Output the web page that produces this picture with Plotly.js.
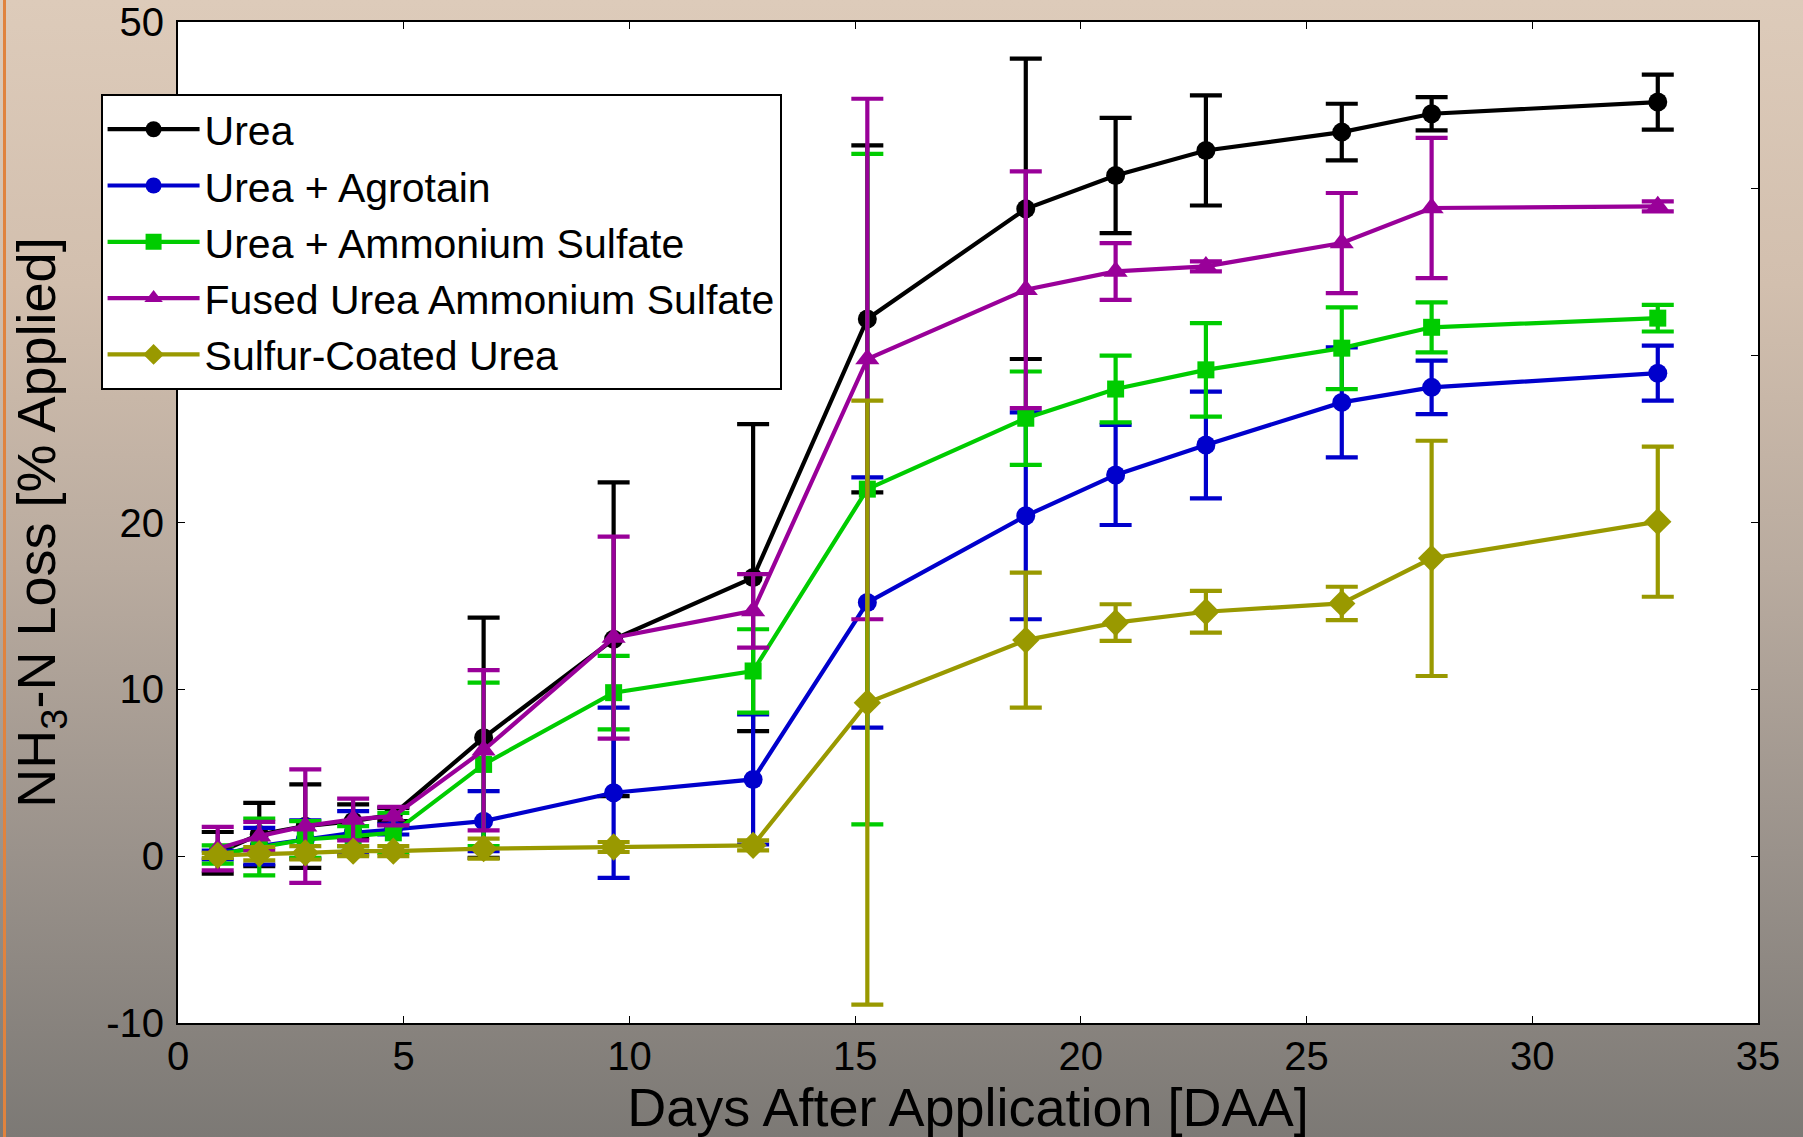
<!DOCTYPE html>
<html>
<head>
<meta charset="utf-8">
<script src="https://cdn.plot.ly/plotly-3.0.1.min.js"></script>
<style>
  html, body { margin: 0; padding: 0; }
  body {
    width: 1803px; height: 1137px; overflow: hidden;
    background: linear-gradient(to bottom, #ddcbba 0%, #d2bfae 25%, #b9ab9f 50%, #9a928b 75%, #7c7975 100%);
  }
  #edge { position: absolute; left: 3px; top: 0; width: 3px; height: 1137px; background: #e0833e; }
  #chart { position: absolute; left: 0; top: 0; width: 1803px; height: 1137px; }
</style>
</head>
<body>
<div id="edge"></div>
<div id="chart"></div>
<script>
// Days after application
const days = [0.88, 1.8, 2.82, 3.88, 4.77, 6.77, 9.65, 12.74, 15.27, 18.78, 20.77, 22.77, 25.78, 27.77, 32.78];

// NH3-N loss (% applied) and error bar half-lengths
const urea      = [0.2, 1.3, 1.8, 2.1, 2.5, 7.1, 13.0, 16.7, 32.2, 38.8, 40.8, 42.3, 43.4, 44.5, 45.2];
const ureaErr   = [1.25, 1.9, 2.5, 1.0, 0.4, 7.2, 9.4, 9.2, 10.4, 9.0, 3.45, 3.3, 1.7, 1.0, 1.65];

const agrotain    = [0.07, 0.6, 1.0, 1.4, 1.6, 2.1, 3.8, 4.6, 15.2, 20.4, 22.85, 24.65, 27.2, 28.1, 28.95];
const agrotainErr = [0.27, 1.1, 1.15, 1.3, 0.3, 1.8, 5.1, 3.9, 7.5, 6.2, 3.0, 3.2, 3.3, 1.6, 1.65];

const ammSulf    = [0.1, 0.55, 1.0, 1.2, 1.4, 5.5, 9.8, 11.1, 22.0, 26.25, 28.0, 29.15, 30.45, 31.7, 32.25];
const ammSulfErr = [0.55, 1.7, 1.1, 0.6, 1.2, 4.9, 2.2, 2.5, 20.1, 2.8, 2.0, 2.8, 2.45, 1.5, 0.8];

const fuas    = [0.45, 1.2, 1.8, 2.2, 2.4, 6.35, 13.1, 14.7, 29.8, 33.95, 35.05, 35.35, 36.75, 38.85, 38.95];
const fuasErr = [1.3, 0.85, 3.4, 1.25, 0.55, 4.8, 6.05, 2.2, 15.6, 7.1, 1.7, 0.3, 3.0, 4.2, 0.3];

const scu    = [0.05, 0.15, 0.2, 0.3, 0.3, 0.45, 0.55, 0.65, 9.2, 12.95, 14.0, 14.65, 15.15, 17.85, 20.05];
const scuErr = [0.15, 0.4, 0.4, 0.3, 0.3, 0.6, 0.3, 0.3, 18.1, 4.05, 1.1, 1.25, 1.0, 7.05, 4.5];

const names = ['Urea', 'Urea + Agrotain', 'Urea + Ammonium Sulfate', 'Fused Urea Ammonium Sulfate', 'Sulfur-Coated Urea'];
const xTicks = [0, 5, 10, 15, 20, 25, 30, 35];
const yTicks = [-10, 0, 10, 20, 30, 40, 50];

function series(name, y, err, color, symbol, size) {
  return {
    type: 'scatter', mode: 'lines+markers', name: name,
    x: days, y: y,
    line: { color: color, width: 4.2 },
    marker: { color: color, symbol: symbol, size: size },
    error_y: { type: 'data', array: err, visible: true, color: color, thickness: 4.2, width: 16 }
  };
}

const data = [
  series(names[0], urea, ureaErr, '#000000', 'circle', 19),
  series(names[1], agrotain, agrotainErr, '#0000cc', 'circle', 19),
  series(names[2], ammSulf, ammSulfErr, '#00cc00', 'square', 17),
  series(names[3], fuas, fuasErr, '#990099', 'triangle-up', 21),
  series(names[4], scu, scuErr, '#999900', 'diamond', 21)
];

const fontFam = '"Liberation Sans", Arial, Helvetica, sans-serif';

const layout = {
  width: 1803, height: 1137,
  margin: { l: 178, r: 45, t: 22, b: 114 },
  paper_bgcolor: 'rgba(0,0,0,0)',
  plot_bgcolor: '#ffffff',
  font: { family: fontFam, color: '#000000' },
  showlegend: true,
  legend: {
    x: -0.049, y: 0.928, xanchor: 'left', yanchor: 'top',
    bgcolor: '#ffffff', bordercolor: '#000000', borderwidth: 2,
    font: { family: fontFam, size: 41, color: '#000000' },
    itemwidth: 92, tracegroupgap: 0
  },
  xaxis: {
    range: [0, 35], tickvals: xTicks, ticktext: xTicks.map(String),
    showgrid: false, zeroline: false,
    showline: true, linecolor: '#000000', linewidth: 2, mirror: 'ticks',
    ticks: 'inside', ticklen: 7, tickwidth: 1, tickcolor: '#000000',
    tickfont: { family: fontFam, size: 40, color: '#000000' },
    ticklabelstandoff: -3,
    title: { text: 'Days After Application [DAA]', font: { family: fontFam, size: 54, color: '#000000' }, standoff: 14 }
  },
  yaxis: {
    range: [-10, 50], tickvals: yTicks, ticktext: yTicks.map(String),
    showgrid: false, zeroline: false,
    showline: true, linecolor: '#000000', linewidth: 2, mirror: 'ticks',
    ticks: 'inside', ticklen: 7, tickwidth: 1, tickcolor: '#000000',
    tickfont: { family: fontFam, size: 40, color: '#000000' },
    ticklabelstandoff: 4,
    title: { text: 'NH<sub>3</sub>-N Loss [% Applied]', font: { family: fontFam, size: 54, color: '#000000' }, standoff: 33 }
  }
};

Plotly.newPlot('chart', data, layout, { displayModeBar: false, staticPlot: true });
</script>
</body>
</html>
